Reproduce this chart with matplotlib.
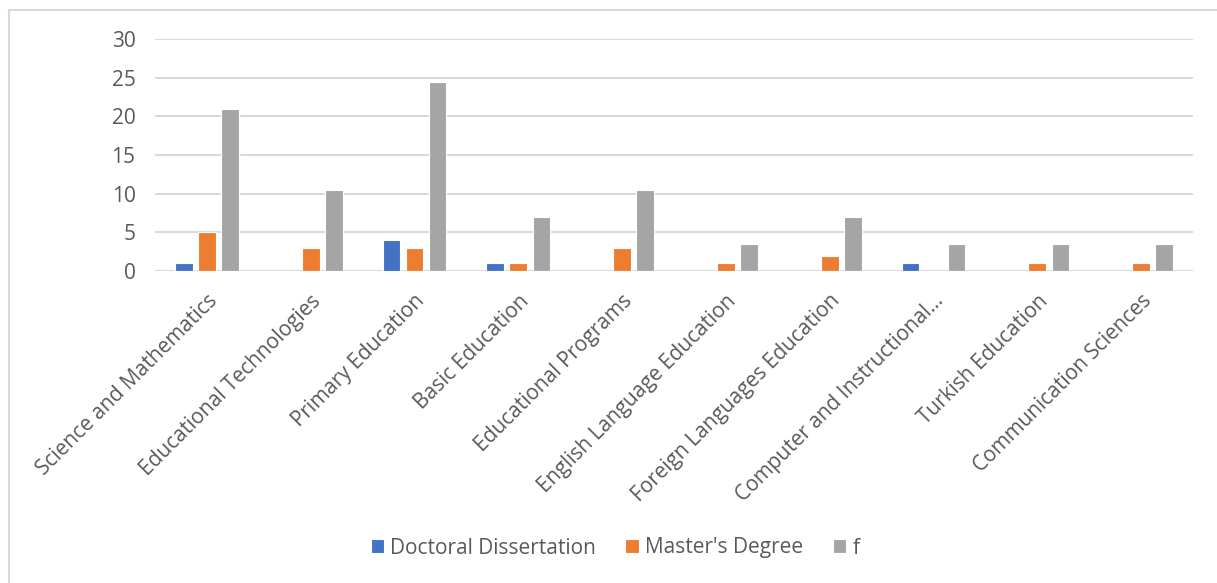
import matplotlib.pyplot as plt
import numpy as np

categories = ["Science and Mathematics", "Educational Technologies", "Primary Education",
              "Basic Education", "Educational Programs", "English Language Education",
              "Foreign Languages Education", "Computer and Instructional...",
              "Turkish Education", "Communication Sciences"]
doctoral = [1, 0, 4, 1, 0, 0, 0, 1, 0, 0]
masters = [5, 3, 3, 1, 3, 1, 2, 0, 1, 1]
f_vals = [21, 10.5, 24.5, 7, 10.5, 3.5, 7, 3.5, 3.5, 3.5]

plt.rcParams['font.family'] = ['Open Sans', 'DejaVu Sans']
txt = '#595959'

fig = plt.figure(figsize=(12.17, 5.83), dpi=100)
ax = fig.add_axes([155/1217, 1-271/583, (1193-155)/1217, (271-39)/583])

# outer chart border (top and left visible)
fig.add_artist(plt.Line2D([9/1217, 9/1217], [0, 1-10/583], color='#D9D9D9', lw=1.5))
fig.add_artist(plt.Line2D([9/1217, 1], [1-10/583, 1-10/583], color='#D9D9D9', lw=1.5))

x = np.arange(len(categories))
w = 0.17
step = 0.222
series = [("Doctoral Dissertation", doctoral, '#4472C4'),
          ("Master's Degree", masters, '#ED7D31'),
          ("f", f_vals, '#A5A5A5')]
for i, (name, vals, col) in enumerate(series):
    ax.bar(x + (i - 1) * step, vals, width=w, color=col, edgecolor='white',
           linewidth=0.8, label=name, zorder=3)

ax.set_xlim(-0.5, len(categories) - 0.5)
ax.set_ylim(0, 30)
ax.set_yticks(range(0, 31, 5))
ax.grid(axis='y', color='#D9D9D9', lw=1.5, zorder=0)
for s in ax.spines.values():
    s.set_visible(False)
ax.axhline(0, color='#D9D9D9', lw=1.5, zorder=2)
ax.tick_params(axis='both', length=0, labelsize=15, colors=txt)
ax.tick_params(axis='x', pad=14)
ax.tick_params(axis='y', pad=14)
ax.set_xticks(x)
ax.set_xticklabels(categories, rotation=45, ha='right', va='top', rotation_mode='anchor')

handles, labels = ax.get_legend_handles_labels()
leg = fig.legend(handles, labels, loc='center', bbox_to_anchor=(615/1217, 1-548/583),
                 ncol=3, frameon=False, fontsize=15, handlelength=0.65, handleheight=0.65,
                 handletextpad=0.3, columnspacing=1.4)
for t in leg.get_texts():
    t.set_color(txt)

fig.savefig('out.png', dpi=100, facecolor='white')
